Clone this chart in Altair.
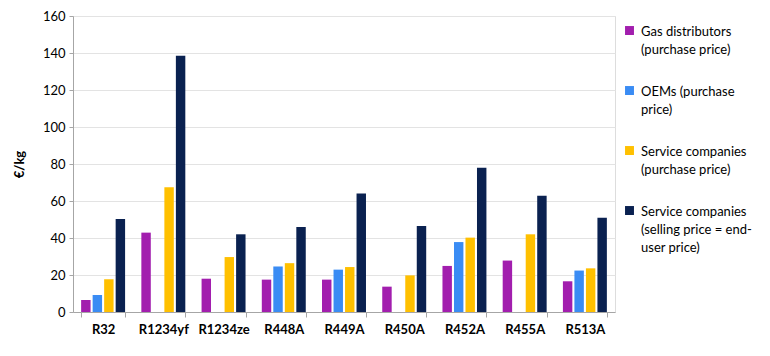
import altair as alt
import pandas as pd

categories = ["R32", "R1234yf", "R1234ze", "R448A", "R449A", "R450A", "R452A", "R455A", "R513A"]
series = [
    "Gas distributors|(purchase price)",
    "OEMs (purchase|price)",
    "Service companies|(purchase price)",
    "Service companies|(selling price = end-|user price)",
]
gas = [6.5, 42.9, 18.0, 17.5, 17.5, 13.7, 24.9, 27.8, 16.6]
oem = [9.2, None, None, 24.6, 22.9, None, 37.8, None, 22.4]
svc_buy = [17.7, 67.4, 29.7, 26.4, 24.3, 19.8, 40.2, 42.0, 23.6]
svc_sell = [50.3, 138.5, 42.0, 46.0, 64.0, 46.5, 78.0, 62.8, 51.0]
colors = ["#A21EAE", "#3A8CF4", "#FFC000", "#0A2150"]

rows = []
for vals, s in zip([gas, oem, svc_buy, svc_sell], series):
    for c, v in zip(categories, vals):
        if v is not None:
            rows.append({"cat": c, "series": s, "value": v})
df = pd.DataFrame(rows)

font = "Lato"
label_expr = "split(datum.label, '|')"
square_shifted = "M-1,0.12H1V2.12H-1Z"

chart = alt.Chart(df).mark_bar().encode(
    x=alt.X("cat:N", sort=categories, title=None,
            scale=alt.Scale(paddingInner=0.27, paddingOuter=0.135),
            axis=alt.Axis(labelAngle=0, labelFont=font, labelFontSize=13, labelFontWeight="bold",
                          labelColor="#000", domainColor="#a6a6a6", tickColor="#a6a6a6",
                          tickBand="extent", tickSize=5, labelPadding=6)),
    xOffset=alt.XOffset("series:N", sort=series,
                        scale=alt.Scale(paddingInner=0.18, paddingOuter=0)),
    y=alt.Y("value:Q", title="€/kg", scale=alt.Scale(domain=[0, 160]),
            axis=alt.Axis(values=list(range(0, 161, 20)), labelFont=font, labelFontSize=13,
                          labelColor="#000", titleFont=font, titleFontSize=13,
                          titleFontWeight="bold", titleColor="#000", domainColor="#a6a6a6",
                          tickColor="#a6a6a6", tickSize=4, gridColor="#e3e3e3",
                          labelPadding=4, titlePadding=16)),
    color=alt.Color("series:N", sort=series, scale=alt.Scale(domain=series, range=colors),
                    legend=alt.Legend(title=None, orient="none", legendX=550, legendY=3,
                                      symbolType=square_shifted, symbolSize=80, symbolStrokeWidth=0,
                                      labelFont=font, labelFontSize=13, labelColor="#000",
                                      labelExpr=label_expr, labelBaseline="top",
                                      labelLimit=200, rowPadding=22, labelOffset=5)),
).properties(width=542, height=296, padding={"left": 5, "top": 2, "right": 0, "bottom": 2})

chart = chart.configure_view(stroke=None).configure(
    background="white", style={"guide-label": {"lineHeight": 18}})

chart.save("out.html", embed_options={"renderer": "svg", "actions": False})
